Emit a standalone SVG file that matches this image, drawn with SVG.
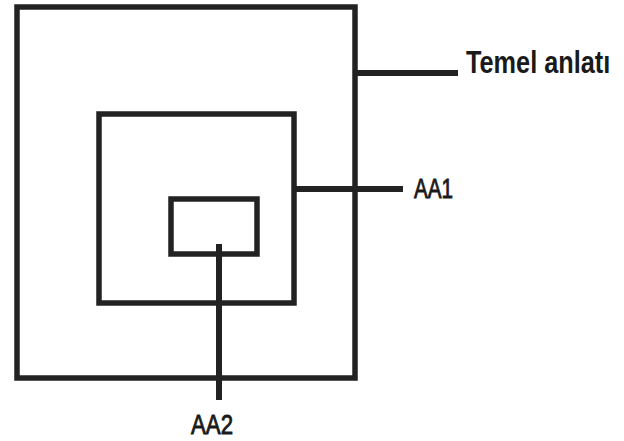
<svg xmlns="http://www.w3.org/2000/svg" width="624" height="441" viewBox="0 0 624 441">
<style>
.box{fill:none;stroke:#222;stroke-width:5.5}
.ln{stroke:#222;stroke-width:6;fill:none}
.lbl{font-family:"Liberation Sans",Arial,sans-serif;fill:#1a1a1a}
.b{font-weight:bold}
.m{stroke:#1a1a1a;stroke-width:0.9}
</style>
<rect width="624" height="441" fill="#ffffff"/>
<g id="outer"><rect class="box" x="17" y="7" width="338" height="371"/></g>
<g id="middle"><rect class="box" x="99" y="114" width="195" height="189"/></g>
<g id="inner"><rect class="box" x="171" y="199" width="86" height="55"/></g>
<g id="connectors">
<line class="ln" x1="355" y1="73" x2="458" y2="73"/>
<line class="ln" x1="294" y1="189" x2="403" y2="189"/>
<line class="ln" x1="219" y1="244" x2="219" y2="400"/>
</g>
<g id="label-temel"><text class="lbl b" transform="translate(466 73) scale(0.79 1)" x="0" y="0" font-size="32">Temel anlatı</text></g>
<g id="label-aa1"><text class="lbl m" x="414" y="198" font-size="28" textLength="39" lengthAdjust="spacingAndGlyphs">AA1</text></g>
<g id="label-aa2"><text class="lbl m" x="191" y="434" font-size="28" textLength="42" lengthAdjust="spacingAndGlyphs">AA2</text></g>
</svg>
